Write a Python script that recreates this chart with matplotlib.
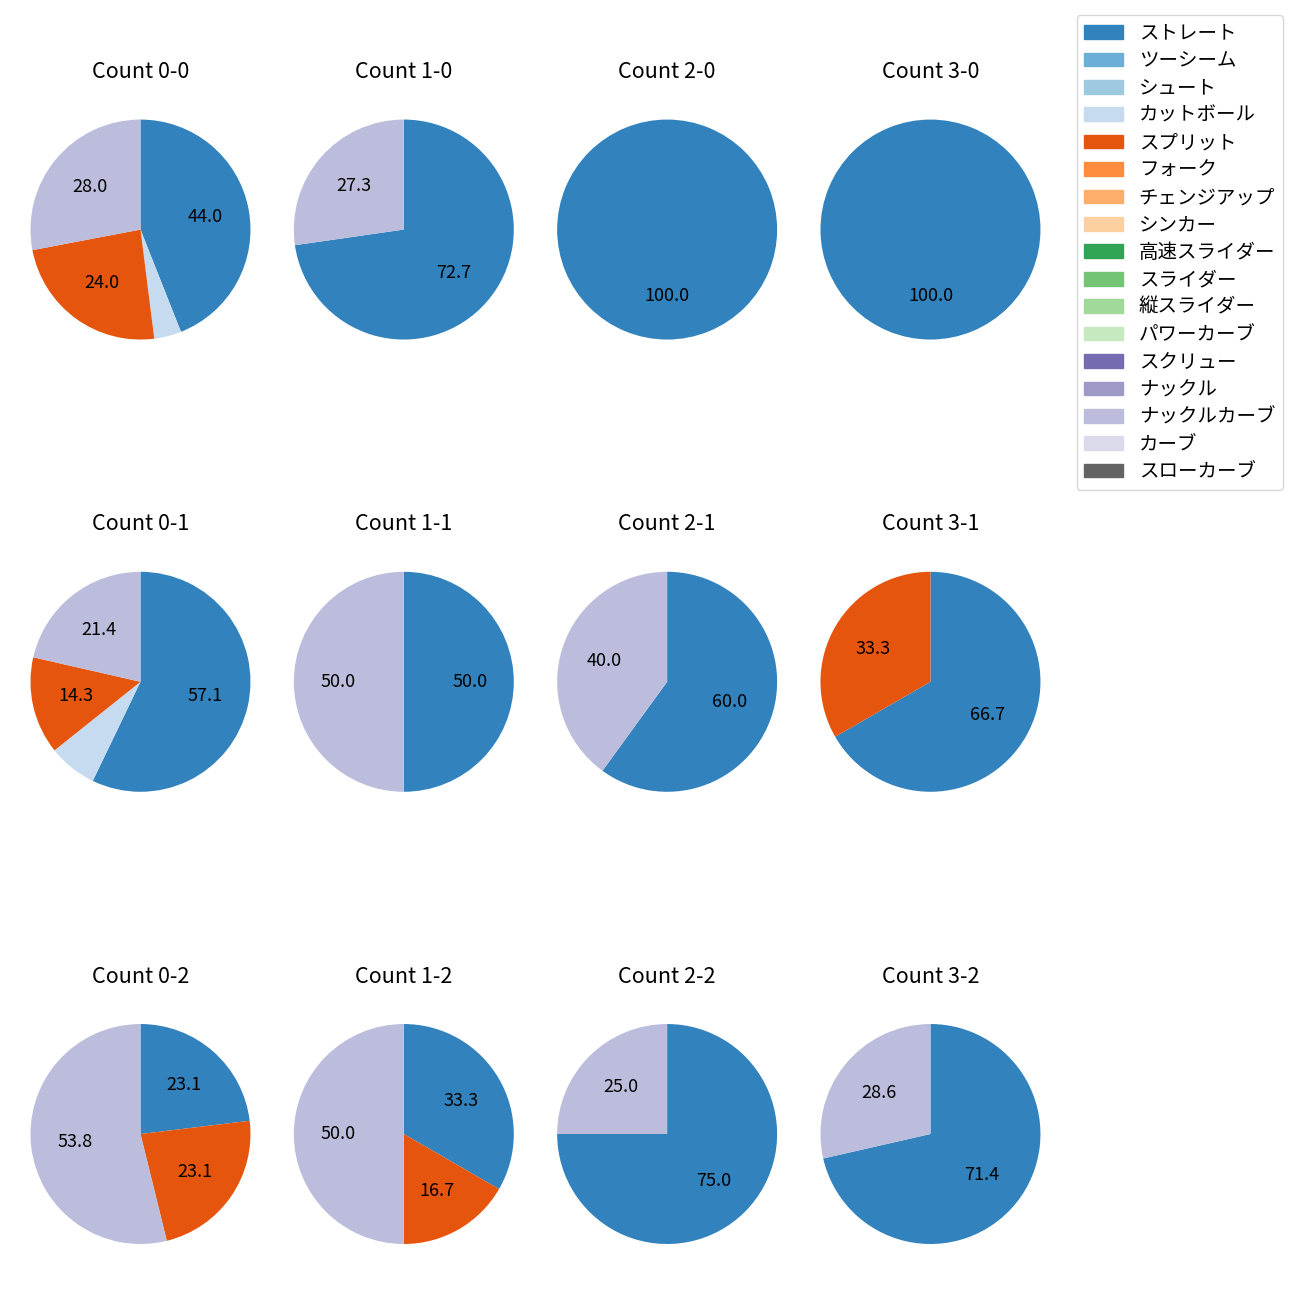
import numpy as np
import matplotlib
matplotlib.use('Agg')
import matplotlib.pyplot as plt
from matplotlib.patches import Patch

plt.rcParams['font.family'] = ['Noto Sans CJK JP', 'DejaVu Sans']

pitch_types = ['ストレート', 'ツーシーム', 'シュート', 'カットボール', 'スプリット', 'フォーク',
               'チェンジアップ', 'シンカー', '高速スライダー', 'スライダー', '縦スライダー',
               'パワーカーブ', 'スクリュー', 'ナックル', 'ナックルカーブ', 'カーブ', 'スローカーブ']

# counts in order 0-0,1-0,2-0,3-0 / 0-1,... / 0-2,...
count_labels = ['0-0', '1-0', '2-0', '3-0', '0-1', '1-1', '2-1', '3-1', '0-2', '1-2', '2-2', '3-2']
straight = [11, 8, 1, 1, 8, 1, 3, 2, 3, 2, 3, 5]
cutter = [1, 0, 0, 0, 1, 0, 0, 0, 0, 0, 0, 0]
split = [6, 0, 0, 0, 2, 0, 0, 1, 3, 1, 0, 0]
knuckle_curve = [7, 3, 0, 0, 3, 1, 2, 0, 7, 3, 1, 2]

used = {'ストレート': straight, 'カットボール': cutter, 'スプリット': split, 'ナックルカーブ': knuckle_curve}

cmap = plt.get_cmap('tab20c')
colors = {p: cmap(i) for i, p in enumerate(pitch_types)}

fig, axes = plt.subplots(3, 4, figsize=(13, 13), dpi=100)
plt.subplots_adjust(left=0.0023, right=0.8215, top=0.9388, bottom=0.0123,
                     wspace=-0.0424, hspace=0.5075)

for i, ax in enumerate(axes.flat):
    vals, cols = [], []
    for p in pitch_types:
        if p in used and used[p][i] > 0:
            vals.append(used[p][i])
            cols.append(colors[p])
    ax.pie(vals, colors=cols, startangle=90, counterclock=False,
           autopct=lambda v: f'{v:.1f}' if v >= 10 else '',
           textprops={'fontsize': 13})
    ax.set_title('Count ' + count_labels[i], fontsize=15.5, pad=10)

handles = [Patch(color=colors[p], label=p) for p in pitch_types]
fig.legend(handles=handles, loc='upper right', bbox_to_anchor=(1283 / 1300, 1 - 15 / 1300),
           borderaxespad=0, fontsize=14, labelspacing=0.33)

plt.savefig('out.png')
